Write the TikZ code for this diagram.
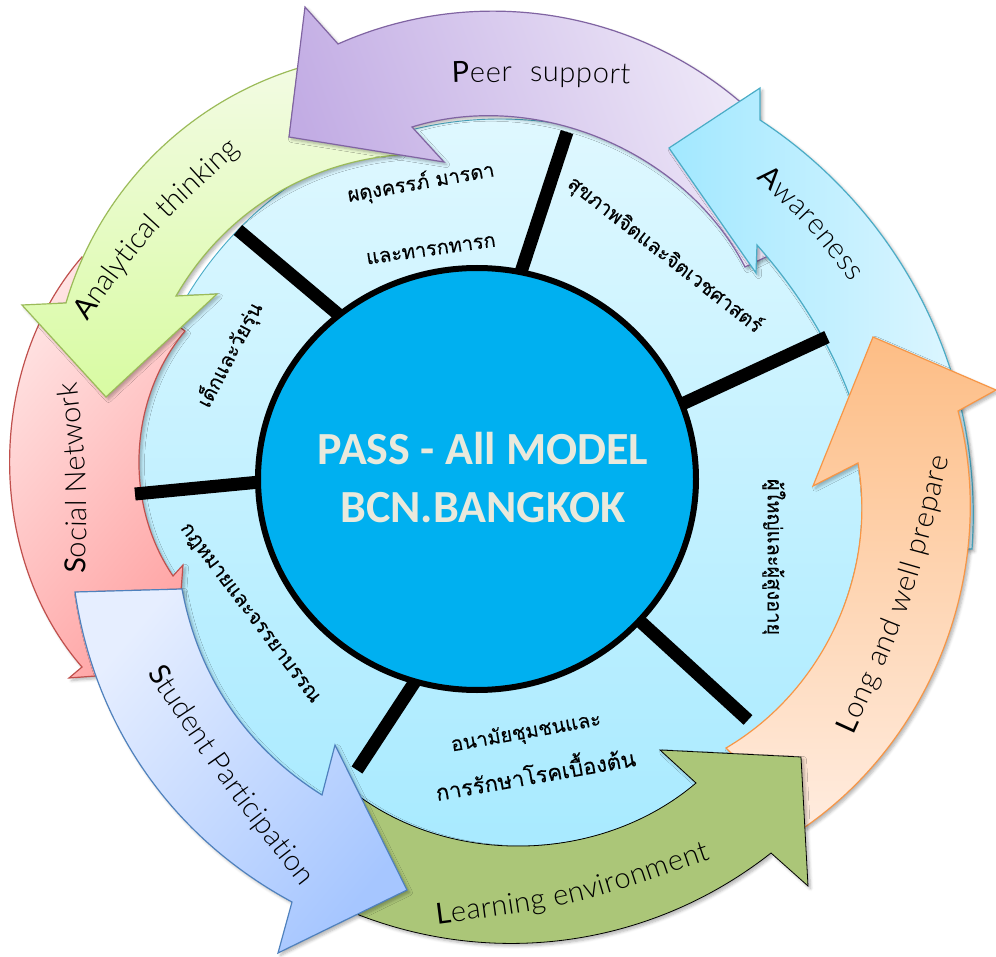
\documentclass[tikz,border=0pt]{standalone}
\usepackage{fontspec}
\usetikzlibrary{shapes.geometric,decorations.text,shadows.blur}
\newfontfamily\thaifont[Script=Thai,FakeBold=0.2]{Loma}
\newfontfamily\lbllight{Lato Light}
\newfontfamily\lblreg{Lato}
\newfontfamily\ctrfont{Carlito}
\newcommand{\lblL}{\lbllight\fontsize{29}{31}\selectfont}
\newcommand{\lblR}{\lblreg\fontsize{29}{31}\selectfont}
\definecolor{discTop}{HTML}{DFF8FF}
\definecolor{discBot}{HTML}{A8EAFF}
\definecolor{discEdge}{HTML}{4BACC6}
\definecolor{purpL}{HTML}{C2ACE4}
\definecolor{purpR}{HTML}{EFE9F8}
\definecolor{purpE}{HTML}{8064A2}
\definecolor{grnT}{HTML}{F3FBE4}
\definecolor{grnB}{HTML}{D8FBA2}
\definecolor{grnE}{HTML}{9BBB59}
\definecolor{redL}{HTML}{FFE6E6}
\definecolor{redD}{HTML}{FFA6A6}
\definecolor{redE}{HTML}{C0504D}
\definecolor{bluL}{HTML}{E6EEFF}
\definecolor{bluD}{HTML}{A6C6FF}
\definecolor{bluE}{HTML}{4F81BD}
\definecolor{awaL}{HTML}{A2E8FF}
\definecolor{awaR}{HTML}{E2F7FF}
\definecolor{oraT}{HTML}{FDBD85}
\definecolor{oraB}{HTML}{FFECDF}
\definecolor{oraE}{HTML}{F79646}
\definecolor{learnF}{HTML}{ABC678}
\definecolor{ctrF}{HTML}{00B0F0}
\definecolor{ctrT}{HTML}{E9E9DC}
\tikzset{
  arrowshape/.style={line width=1.2pt,line join=miter,miter limit=10,
    blur shadow={shadow blur steps=5,shadow xshift=2.5pt,shadow yshift=-2.5pt,shadow opacity=30,shadow blur radius=3pt}},
  bar/.style={line width=13pt,line cap=butt,black},
  thai/.style={font=\thaifont\fontsize{20}{24}\selectfont,inner sep=0pt,text=black},
  curvelabel/.style={decorate,decoration={text along path,text align={fit to path},text={#1}}},
  arcL/.style={bend left=#1,looseness=0.92},
  arcR/.style={bend right=#1,looseness=0.92}
}
\begin{document}
\begin{tikzpicture}[x=1pt,y=-1pt]
\useasboundingbox (0,0) rectangle (996,957);
% disc
\node[circle,minimum size=730pt,inner sep=0pt,draw=discEdge,line width=0.9pt,top color=discTop,bottom color=discBot] (disc) at (500,484) {};
% Social Network (red)
\path[arrowshape,draw=redE,left color=redL,right color=redD,shading angle=50]
  (82,257) -- (185,331)
  to[arcR=37] (173,576)
  -- (183,565) -- (175,670) -- (69,678) -- (82,667)
  to[arcL=41] (82,257) -- cycle;
% Analytical thinking (light green)
\path[arrowshape,draw=grnE,top color=grnT,bottom color=grnB]
  (22,305) -- (106,397) -- (217,294) -- (176,296)
  to[arcL=27.4] (397,155)
  -- (410,145) -- (330,60)
  to[arcR=31] (66,303) -- cycle;
% Peer support (purple)
\path[arrowshape,draw=purpE,left color=purpL,right color=purpR,shading angle=110]
  (305,7) -- (289,137) -- (444,162) -- (412,127)
  to[arcL=40] (745,267)
  -- (768,256) -- (757,115) -- (738,100)
  to[arcR=32] (338,44) -- cycle;
% Awareness (blue)
\path[arrowshape,draw=discEdge,left color=awaL,right color=awaR,shading angle=90]
  (760,88) -- (669,148) -- (756,273) -- (757,245)
  to[arcL=19.4] (880,549)
  -- (972,549)
  to[arcR=30.4] (760,120) -- cycle;
% Long and well prepare (orange)
\path[arrowshape,draw=oraE,top color=oraT,bottom color=oraB]
  (873,337) -- (996,390) -- (958,411)
  to[arcL=35] (805,827)
  -- (726,748)
  to[arcR=34.7] (858,463)
  -- (813,486) -- cycle;
% Learning environment (olive)
\path[arrowshape,draw=black,line width=0.8pt,fill=learnF]
  (350,790) -- (360,797)
  to[arcR=38] (696,783)
  -- (660,750) -- (801,757) -- (808,886) -- (771,853)
  to[arcL=29.6] (359,915)
  -- (340,900) -- cycle;
% Student Participation (blue)
\path[arrowshape,draw=bluE,left color=bluL,right color=bluD,shading angle=50]
  (75,592) -- (182,589)
  to[arcR=23.6] (322,795)
  -- (335,745) -- (407,890) -- (278,953) -- (292,902)
  to[arcL=26.6] (75,592) -- cycle;
% spokes
\coordinate (s1a) at (339,315); \coordinate (s1b) at (238,230);
\coordinate (s2a) at (519,278); \coordinate (s2b) at (567,132);
\coordinate (s3a) at (680,405); \coordinate (s3b) at (827,337);
\coordinate (s4a) at (630,612); \coordinate (s4b) at (748,720);
\coordinate (s5a) at (416,680); \coordinate (s5b) at (357,770);
\coordinate (s6a) at (260,482); \coordinate (s6b) at (135,494);
\draw[bar] (s1a) -- (s1b);
\draw[bar] (s2a) -- (s2b);
\draw[bar] (s3a) -- (s3b);
\draw[bar] (s4a) -- (s4b);
\draw[bar] (s5a) -- (s5b);
\draw[bar] (s6a) -- (s6b);
% centre
\node[ellipse,minimum width=438pt,minimum height=422pt,inner sep=0pt,draw=black,line width=6pt,fill=ctrF] (centre) at (477,479) {};
\node[text=ctrT,align=center,font=\ctrfont\bfseries\fontsize{46}{58}\selectfont] (centretext) at (483,478)
  {PASS - All MODEL\\BCN.BANGKOK};
% arrow labels
\path[curvelabel={|\lblR|P|\lblL|eer}] (452,83) .. controls (480,82) .. (512,82);
\path[curvelabel={|\lblL|support}] (530,82) .. controls (580,82) .. (630,84);
\path[curvelabel={|\lblR|A|\lblL|nalytical thinking}] (87,322) .. controls (154,229) .. (240,151);
\path[curvelabel={|\lblR|A|\lblL|wareness}] (756,179) .. controls (806,224) .. (851,282);
\path[curvelabel={|\lblR|L|\lblL|ong and well prepare}] (853,735) .. controls (913,603) .. (949,458);
\path[curvelabel={|\lblR|L|\lblL|earning environment}] (437,924) .. controls (575,906) .. (711,859);
\path[curvelabel={|\lblR|S|\lblL|tudent Participation}] (147,673) .. controls (220,783) .. (301,887);
\path[curvelabel={|\lblR|S|\lblL|ocial Network}] (85,574) .. controls (88,480) .. (77,382);
% thai labels
\node[thai,rotate=10] (t1) at (421,183) {ผดุงครรภ์ มารดา};
\node[thai,rotate=8] (t2) at (431,250) {และทารกทารก};
\node[thai,rotate=-38] (t3) at (665,255) {สุขภาพจิตและจิตเวชศาสตร์};
\node[thai,rotate=-90] (t4) at (774,557) {ผู้ใหญ่และผู้สูงอายุ};
\node[thai,rotate=10] (t5) at (526,733) {อนามัยชุมชนและ};
\node[thai,rotate=10,font=\thaifont\fontsize{22}{24}\selectfont] (t6) at (535,772) {การรักษาโรคเบื้องต้น};
\node[thai,rotate=62] (t7) at (230,355) {เด็กและวัยรุ่น};
\node[thai,rotate=-53] (t8) at (249,614) {กฎหมายและจรรยาบรรณ};
\end{tikzpicture}
\end{document}
